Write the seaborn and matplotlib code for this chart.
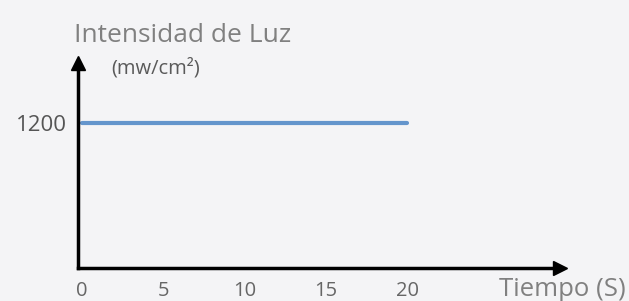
import matplotlib
matplotlib.use('Agg')
import matplotlib.pyplot as plt
import seaborn as sns
import pandas as pd

# datos
tiempo = [0, 20]
intensidad = [1200, 1200]
xticks = [0, 5, 10, 15, 20]
yticks = [1200]

df = pd.DataFrame({'tiempo': tiempo, 'intensidad': intensidad})

sns.set_style('white')
plt.rcParams['font.family'] = ['Open Sans', 'DejaVu Sans']

bg = '#f4f4f6'
fig = plt.figure(figsize=(6.29, 3.01), dpi=100, facecolor=bg)
ax = fig.add_axes([78 / 629, 33 / 301, (560 - 78) / 629, (268 - 63) / 301])
ax.set_facecolor(bg)

sns.lineplot(data=df, x='tiempo', y='intensidad', ax=ax, color='#6495cc', linewidth=3)

ax.set_xlim(-0.25, 29.4)
ax.set_ylim(0, 1695)

for s in ['top', 'right']:
    ax.spines[s].set_visible(False)
for s in ['left', 'bottom']:
    ax.spines[s].set_color('black')
    ax.spines[s].set_linewidth(2.5)

# flechas en los ejes
ax.plot(1, 0, '>', color='black', markersize=10, transform=ax.transAxes, clip_on=False)
ax.plot(0, 1, '^', color='black', markersize=10, transform=ax.transAxes, clip_on=False)

ax.set_xticks(xticks)
ax.set_xticklabels([str(t) for t in xticks], fontsize=14.5, color='#666666')
ax.set_yticks(yticks)
ax.set_yticklabels([str(t) for t in yticks], fontsize=16, color='#555555')
ax.tick_params(axis='x', length=0, pad=9)
ax.tick_params(axis='y', length=7, width=1, color='#999999', pad=1)
ax.set_xlabel('')
ax.set_ylabel('')

fig.text(74 / 629, 1 - 36 / 301, 'Intensidad de Luz', fontsize=19, color='#808080',
         ha='left', va='center')
fig.text(111 / 629, 1 - 68 / 301, '(mw/cm²)', fontsize=14.5, color='#5a5a5a',
         ha='left', va='center')
fig.text(626 / 629, 1 - 289 / 301, 'Tiempo (S)', fontsize=18.5, color='#808080',
         ha='right', va='center')

fig.savefig('out.png', dpi=100, facecolor=bg)
